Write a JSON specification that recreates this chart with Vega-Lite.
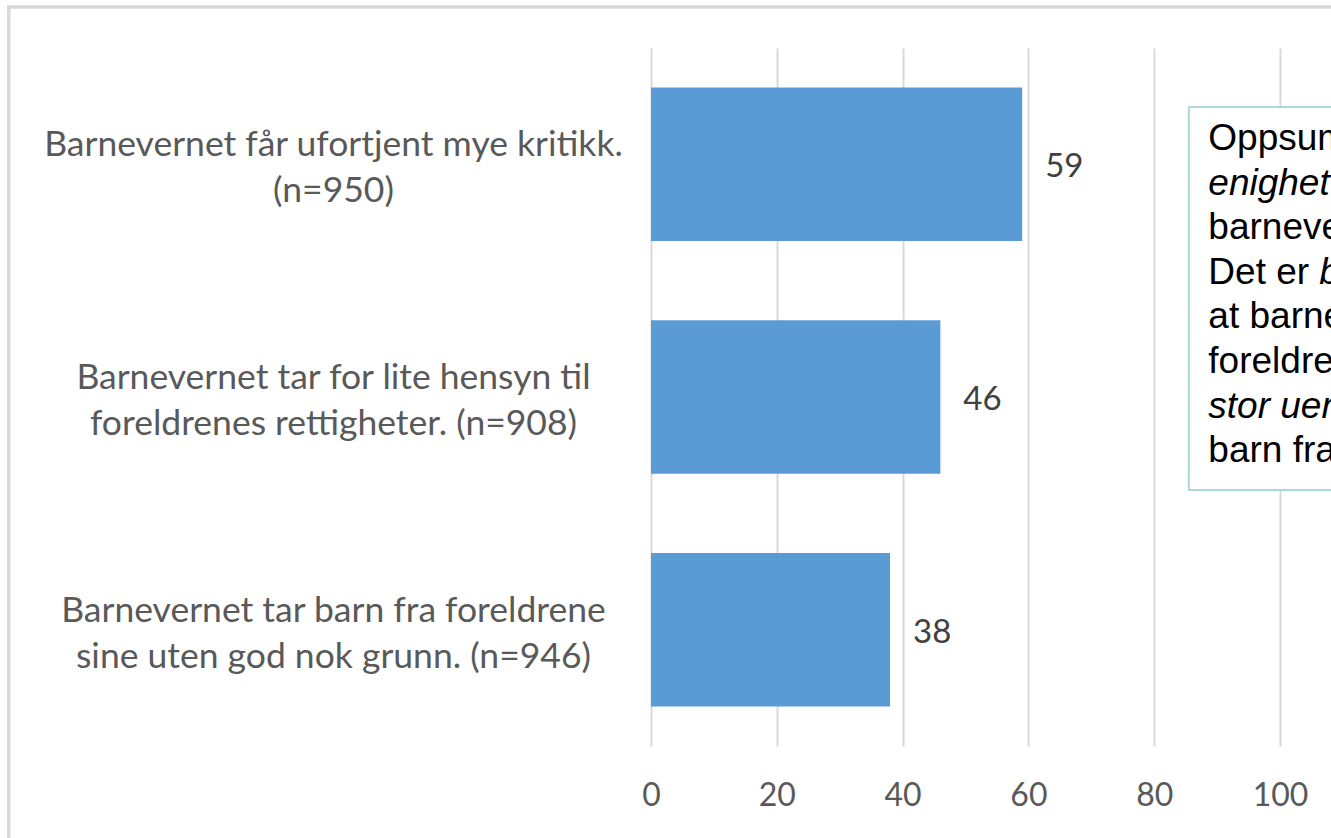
{
  "$schema": "https://vega.github.io/schema/vega-lite/v6.json",
  "width": 680,
  "height": 698,
  "autosize": {"type": "none"},
  "padding": {"left": 651, "top": 48, "right": 0, "bottom": 92},
  "background": "white",
  "config": {"view": {"stroke": null}, "font": "Lato"},
  "data": {
    "values": [
      {"label": "Barnevernet får ufortjent mye kritikk.\n(n=950)", "value": 59},
      {"label": "Barnevernet tar for lite hensyn til\nforeldrenes rettigheter. (n=908)", "value": 46},
      {"label": "Barnevernet tar barn fra foreldrene\nsine uten god nok grunn. (n=946)", "value": 38}
    ]
  },
  "layer": [
    {
      "data": {"values": [{"k": 1}]},
      "mark": {"type": "rect", "fill": null, "stroke": "#d9d9d9", "strokeWidth": 3.5, "clip": false},
      "encoding": {
        "x": {"datum": -102.1, "type": "quantitative"},
        "x2": {"datum": 200},
        "y": {"datum": "Barnevernet får ufortjent mye kritikk.\n(n=950)", "type": "nominal", "bandPosition": -0.525},
        "y2": {"datum": "Barnevernet tar barn fra foreldrene\nsine uten god nok grunn. (n=946)", "bandPosition": 3}
      }
    },
    {
      "mark": {"type": "bar", "color": "#5b9bd5"},
      "encoding": {
        "y": {
          "field": "label", "type": "nominal",
          "scale": {
            "domain": [
              "Barnevernet får ufortjent mye kritikk.\n(n=950)",
              "Barnevernet tar for lite hensyn til\nforeldrenes rettigheter. (n=908)",
              "Barnevernet tar barn fra foreldrene\nsine uten god nok grunn. (n=946)"
            ],
            "paddingInner": 0.34, "paddingOuter": 0.17
          },
          "axis": {
            "title": null, "domain": false, "ticks": false, "tickSize": 0,
            "labelAlign": "center", "labelBaseline": "middle", "labelPadding": 318,
            "labelFontSize": 35.5, "labelColor": "#595959", "labelLineHeight": 46,
            "labelLimit": 0, "labelFont": "Lato", "labelOffset": -19,
            "labelExpr": "split(datum.value, '\\n')"
          }
        },
        "x": {
          "field": "value", "type": "quantitative",
          "scale": {"domain": [0, 108.1], "nice": false, "zero": true},
          "axis": {
            "title": null, "values": [0, 20, 40, 60, 80, 100],
            "domain": false, "ticks": false, "tickSize": 0,
            "grid": true, "gridColor": "#d9d9d9", "gridWidth": 2,
            "labelFontSize": 32, "labelColor": "#595959", "labelPadding": 34,
            "labelFont": "Lato", "labelFlush": false
          }
        }
      }
    },
    {
      "mark": {"type": "text", "align": "left", "baseline": "middle", "dx": 23, "dy": 3, "fontSize": 33, "color": "#404040", "font": "Lato"},
      "encoding": {
        "y": {"field": "label", "type": "nominal"},
        "x": {"field": "value", "type": "quantitative"},
        "text": {"field": "value", "type": "quantitative"}
      }
    },
    {
      "data": {"values": [{"k": 1}]},
      "mark": {"type": "rect", "fill": "white", "stroke": "#acd8db", "strokeWidth": 2, "clip": true},
      "encoding": {
        "x": {"datum": 85.5, "type": "quantitative"},
        "x2": {"datum": 140},
        "y": {"datum": "Barnevernet får ufortjent mye kritikk.\n(n=950)", "type": "nominal", "bandPosition": 0.1267},
        "y2": {"datum": "Barnevernet tar barn fra foreldrene\nsine uten god nok grunn. (n=946)", "bandPosition": -0.41}
      }
    },
    {
      "data": {"values": [{"text": "Oppsummert: Det er stor"}]},
      "mark": {"type": "text", "align": "left", "baseline": "alphabetic", "fontSize": 37, "font": "Liberation Sans", "color": "#000000", "clip": true},
      "encoding": {
        "x": {"datum": 88.6, "type": "quantitative"},
        "y": {"datum": "Barnevernet får ufortjent mye kritikk.\n(n=950)", "type": "nominal", "bandPosition": 0.4067},
        "text": {"field": "text"}
      }
    },
    {
      "data": {"values": [{"text": "enighet om at"}]},
      "mark": {"type": "text", "align": "left", "baseline": "alphabetic", "fontSize": 37, "font": "Liberation Sans", "fontStyle": "italic", "color": "#000000", "clip": true},
      "encoding": {
        "x": {"datum": 88.6, "type": "quantitative"},
        "y": {"datum": "Barnevernet får ufortjent mye kritikk.\n(n=950)", "type": "nominal", "bandPosition": 0.6971},
        "text": {"field": "text"}
      }
    },
    {
      "data": {"values": [{"text": "barnevernet får ufortjent\nDet er\nat barnevernet tar for lite\nforeldrenes rettigheter. Det er"}]},
      "mark": {"type": "text", "align": "left", "baseline": "alphabetic", "lineBreak": "\n", "lineHeight": 44.6, "fontSize": 37, "font": "Liberation Sans", "color": "#000000", "clip": true},
      "encoding": {
        "x": {"datum": 88.6, "type": "quantitative"},
        "y": {"datum": "Barnevernet får ufortjent mye kritikk.\n(n=950)", "type": "nominal", "bandPosition": 0.9875},
        "text": {"field": "text"}
      }
    },
    {
      "data": {"values": [{"text": "bred enighet om at"}]},
      "mark": {"type": "text", "align": "left", "baseline": "alphabetic", "dx": 111, "fontSize": 37, "font": "Liberation Sans", "fontStyle": "italic", "color": "#000000", "clip": true},
      "encoding": {
        "x": {"datum": 88.6, "type": "quantitative"},
        "y": {"datum": "Barnevernet får ufortjent mye kritikk.\n(n=950)", "type": "nominal", "bandPosition": 1.278},
        "text": {"field": "text"}
      }
    },
    {
      "data": {"values": [{"text": "stor uenighet om at"}]},
      "mark": {"type": "text", "align": "left", "baseline": "alphabetic", "fontSize": 37, "font": "Liberation Sans", "fontStyle": "italic", "color": "#000000", "clip": true},
      "encoding": {
        "x": {"datum": 88.6, "type": "quantitative"},
        "y": {"datum": "Barnevernet får ufortjent mye kritikk.\n(n=950)", "type": "nominal", "bandPosition": 2.149},
        "text": {"field": "text"}
      }
    },
    {
      "data": {"values": [{"text": "barn fra foreldrene sine"}]},
      "mark": {"type": "text", "align": "left", "baseline": "alphabetic", "fontSize": 37, "font": "Liberation Sans", "color": "#000000", "clip": true},
      "encoding": {
        "x": {"datum": 88.6, "type": "quantitative"},
        "y": {"datum": "Barnevernet får ufortjent mye kritikk.\n(n=950)", "type": "nominal", "bandPosition": 2.44},
        "text": {"field": "text"}
      }
    }
  ]
}
